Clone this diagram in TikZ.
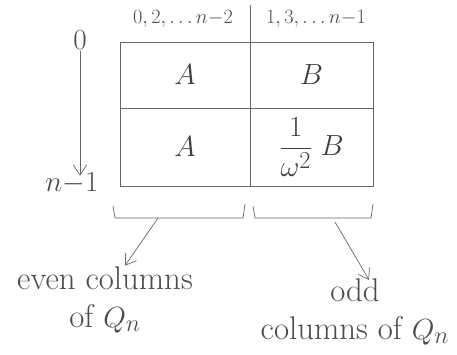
\documentclass[tikz,border=0pt]{standalone}
\usepackage{amsmath}
\usetikzlibrary{arrows.meta,positioning}
\begin{document}
\begin{tikzpicture}[
  x=0.03cm, y=-0.03cm,
  pencil/.style={draw=black!60, line width=0.6pt},
  cell/.style={pencil, minimum height=1.98cm, inner sep=0pt, font=\fontsize{28}{30}\selectfont, text=black!75},
  idx/.style={font=\fontsize{19}{21}\selectfont, text=black!70, inner sep=1pt},
  rowlab/.style={font=\fontsize{24}{26}\selectfont, text=black!70, inner sep=1pt},
  note/.style={align=center, font=\fontsize{28}{32}\selectfont, text=black!70, inner sep=1pt},
  arr/.style={pencil, -{Straight Barb[length=3mm,width=4mm]}}
]
\useasboundingbox (0,0) rectangle (457,354);
% the split matrix
\node[cell, minimum width=3.9cm] (tl) at (185,75) {$A$};
\node[cell, minimum width=3.69cm] (tr) at (311.5,75) {$B$};
\node[cell, minimum width=3.9cm, minimum height=2.34cm] (bl) at (185,147) {$A$};
\node[cell, minimum width=3.69cm, minimum height=2.34cm] (br) at (311.5,147) {$\dfrac{1}{\omega^2}\;B$};
% column indices
\node[idx] (evenidx) at (183,19) {$0,2,\dots n{-}2$};
\node[idx] (oddidx) at (316,19) {$1,3,\dots n{-}1$};
\draw[pencil] (tl.north east) -- ++(0,-37);
% row indices
\node[rowlab] (r0) at (80,40) {$0$};
\node[rowlab] (rn) at (72,183) {$n{-}1$};
\draw[arr] (r0) -- ([yshift=-4pt]rn.north -| r0);
% braces under the halves
\draw[pencil] (113,206) -- (115,218) -- (243,218) -- (245,204);
\draw[pencil] (253,206) -- (255,218) -- (371,218) -- (373,204);
\coordinate (lb) at (158,218);
\coordinate (rb) at (335,222);
\node[note] (even) at (105,300) {even columns\\of $Q_n$};
\node[note] (odd) at (355,312) {odd\\columns of $Q_n$};
\draw[arr] (lb) -- (even.north -| 125,0);
\draw[arr] (rb) -- ([shift={(12pt,-2pt)}]odd.north);
\end{tikzpicture}
\end{document}
